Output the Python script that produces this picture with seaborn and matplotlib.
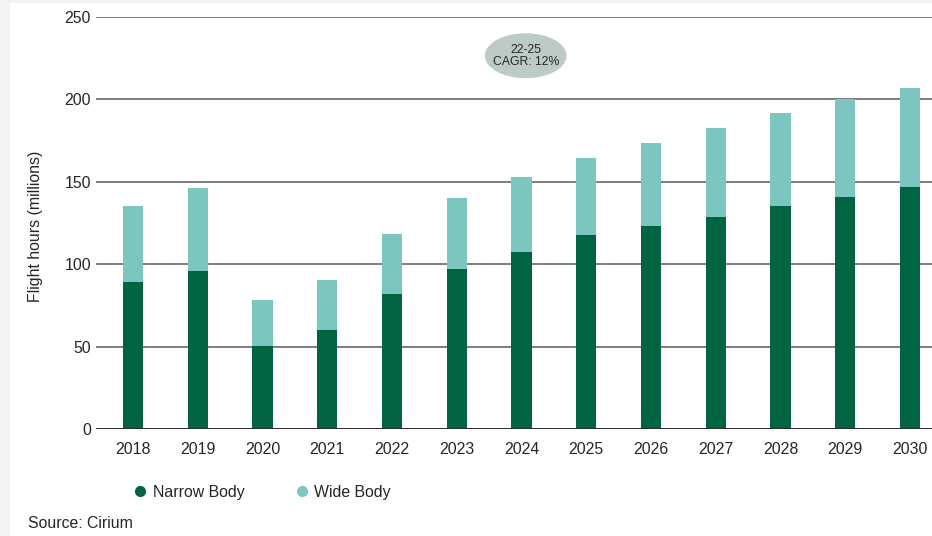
import matplotlib
matplotlib.use("Agg")
import matplotlib.pyplot as plt
import seaborn as sns
import pandas as pd
from matplotlib.patches import Ellipse, Rectangle
from matplotlib.lines import Line2D

years = ["2018", "2019", "2020", "2021", "2022", "2023", "2024",
         "2025", "2026", "2027", "2028", "2029", "2030"]
narrow_body = [89.5, 96.1, 50.5, 60.1, 81.8, 97.3, 107.5,
               117.9, 123.4, 128.9, 135.1, 141.0, 147.0]
wide_body = [45.9, 49.9, 27.6, 30.4, 36.8, 43.1, 45.3,
             46.7, 50.0, 53.5, 56.9, 59.0, 60.2]
total = [n + w for n, w in zip(narrow_body, wide_body)]

NARROW_C = "#006341"
WIDE_C = "#7bc7bf"
TEXT_C = "#262626"
FS = 11.4

sns.set_theme(style="white")
plt.rcParams["font.family"] = ["Liberation Sans", "DejaVu Sans"]

df = pd.DataFrame({"year": years, "narrow": narrow_body, "total": total})

fig = plt.figure(figsize=(9.32, 5.36), dpi=100)
fig.patch.set_facecolor("#f3f3f3")
bg = Rectangle((10 / 932, 0), 1, 1 - 3 / 536, transform=fig.transFigure,
               facecolor="white", edgecolor="none", zorder=-10)
fig.add_artist(bg)

ax = fig.add_axes([96 / 932, 1 - 429 / 536, 1 - 96 / 932, 412 / 536])
ax.set_facecolor("none")
ax.set_zorder(1)

sns.barplot(data=df, x="year", y="total", color=WIDE_C, width=0.31,
            saturation=1, linewidth=0, edgecolor="none", ax=ax, zorder=2)
sns.barplot(data=df, x="year", y="narrow", color=NARROW_C, width=0.31,
            saturation=1, linewidth=0, edgecolor="none", ax=ax, zorder=3)

ax.set_ylim(0, 250)
ax.set_xlim(-0.571, 12.34)
ax.set_yticks([0, 50, 100, 150, 200, 250])
ax.set_axisbelow(True)
ax.yaxis.grid(True, color="#5a5a5a", linewidth=1.1)
ax.xaxis.grid(False)
ax.axhline(0, color="#2a2a2a", linewidth=1.3, zorder=4)
for s in ax.spines.values():
    s.set_visible(False)

ax.tick_params(axis="y", length=0, pad=3.6, labelsize=FS, labelcolor=TEXT_C)
ax.tick_params(axis="x", length=0, pad=9, labelsize=FS, labelcolor=TEXT_C)
ax.set_xlabel("")
ax.set_ylabel("Flight hours (millions)", fontsize=FS, color=TEXT_C)
ax.yaxis.set_label_coords(-0.0634, 0.493)

# CAGR bubble
ell = Ellipse((0.514, 0.906), 0.0977, 0.109, transform=ax.transAxes,
              facecolor="#bccbc4", edgecolor="none", zorder=5, clip_on=False)
ax.add_patch(ell)
ax.text(0.514, 0.906, "22-25\nCAGR: 12%", transform=ax.transAxes, ha="center",
        va="center", fontsize=8.8, color=TEXT_C, linespacing=1.0, zorder=6)

handles = [
    Line2D([], [], marker="o", linestyle="none", markersize=8,
           markerfacecolor=NARROW_C, markeredgecolor="none"),
    Line2D([], [], marker="o", linestyle="none", markersize=8,
           markerfacecolor=WIDE_C, markeredgecolor="none"),
]
fig.legend(handles, ["Narrow Body", "Wide Body"], loc="center left",
           bbox_to_anchor=(132.4 / 932, 1 - 492.5 / 536), ncol=2, frameon=False,
           borderpad=0, borderaxespad=0, handlelength=1.0, handletextpad=0.3,
           columnspacing=3.1, fontsize=FS, labelcolor=TEXT_C)

fig.text(28 / 932, 1 - 523 / 536, "Source: Cirium", ha="left", va="center",
         fontsize=FS, color=TEXT_C)

fig.savefig("out.png", dpi=100, facecolor=fig.get_facecolor())
